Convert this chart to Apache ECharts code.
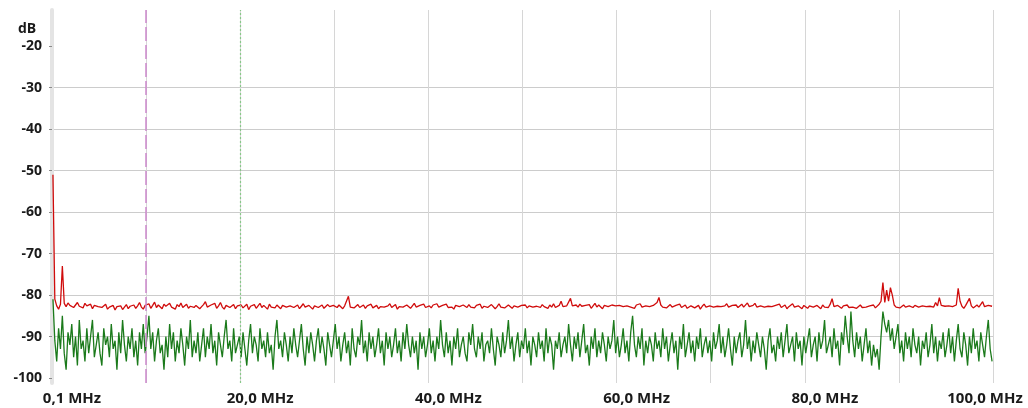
<!DOCTYPE html>
<html>
<head>
<meta charset="utf-8">
<script src="https://cdn.jsdelivr.net/npm/echarts@6/dist/echarts.min.js"></script>
<style>html,body{margin:0;padding:0;background:#fff}#c{width:1028px;height:408px}</style>
</head>
<body>
<div id="c"></div>
<script>
// ---- data ----
const freqStartMHz = 0.1;
const freqStepMHz = 0.2;
const redTrace = [
-51.0,-81.0,-82.6,-83.4,-82.2,-73.0,-82.0,-82.8,-81.9,-82.5,-82.1,-83.0,-82.4,-81.8,-82.7,-82.3,-83.1,-82.0,-82.6,-82.9,-82.2,-83.3,-82.5,-82.1,-82.8,
-82.4,-83.0,-82.7,-82.2,-83.4,-82.9,-83.1,-82.5,-83.6,-82.8,-83.2,-82.6,-83.5,-82.9,-82.3,-83.3,-82.7,-83.0,-82.4,-83.2,-82.6,-81.8,-82.9,-83.4,-82.5,
-82.9,-82.1,-83.2,-82.5,-81.7,-83.0,-82.4,-82.8,-83.3,-82.2,-82.7,-83.1,-82.0,-82.9,-82.5,-83.4,-82.3,-82.8,-81.9,-83.0,-82.6,-82.2,-83.2,-82.7,-82.4,
-83.0,-82.5,-82.1,-83.3,-82.8,-82.3,-81.6,-82.9,-83.1,-82.4,-82.7,-82.0,-83.2,-82.6,-81.8,-82.9,-83.4,-82.5,-82.2,-83.0,-82.7,-82.3,-83.3,-82.6,-82.9,
-82.4,-83.1,-82.8,-82.2,-83.5,-82.7,-82.9,-82.3,-83.2,-82.6,-82.0,-83.0,-82.5,-82.8,-83.4,-82.2,-82.9,-82.6,-83.1,-82.4,-82.7,-83.3,-82.5,-82.1,-82.9,
-83.2,-82.6,-82.3,-83.0,-82.8,-82.4,-83.3,-82.7,-82.1,-82.9,-83.1,-82.5,-82.8,-83.4,-82.6,-82.2,-83.0,-82.7,-82.4,-83.2,-82.9,-82.3,-82.8,-83.1,-82.5,
-82.7,-83.0,-82.4,-82.8,-83.3,-82.6,-82.2,-80.3,-82.9,-82.5,-83.1,-82.7,-82.3,-83.0,-82.8,-82.4,-83.2,-82.6,-82.9,-82.2,-83.1,-82.7,-82.5,-83.3,-82.8,
-82.4,-82.9,-83.2,-82.6,-82.1,-83.0,-82.7,-82.3,-83.4,-82.8,-82.5,-82.9,-83.1,-82.4,-82.7,-83.2,-82.6,-82.0,-82.9,-83.3,-82.5,-82.8,-82.2,-83.0,-82.7,
-82.6,-83.1,-82.4,-82.8,-82.1,-82.9,-83.3,-82.5,-82.7,-82.2,-83.0,-82.6,-82.9,-83.4,-82.5,-82.1,-82.8,-83.2,-82.4,-82.7,-83.0,-82.3,-82.9,-82.6,-83.1,
-82.5,-82.8,-82.2,-83.2,-82.7,-82.4,-83.0,-82.9,-82.3,-82.6,-83.3,-82.8,-82.1,-82.9,-82.5,-83.1,-82.7,-82.4,-82.8,-83.2,-82.6,-82.3,-82.9,-83.0,-82.5,
-82.8,-82.4,-83.1,-82.6,-82.2,-82.9,-83.3,-82.7,-82.5,-83.0,-82.3,-82.8,-82.6,-83.2,-82.4,-82.9,-82.1,-83.0,-82.7,-82.5,-81.5,-82.8,-83.2,-82.6,-82.4,
-80.8,-82.6,-83.0,-82.4,-82.9,-82.2,-82.7,-83.1,-82.5,-82.8,-82.3,-83.2,-82.6,-82.0,-82.9,-82.4,-82.7,-83.3,-82.5,-82.2,-82.8,-83.0,-82.4,-82.7,-82.6,
-83.0,-82.5,-82.2,-82.8,-83.1,-82.6,-82.3,-82.9,-82.7,-83.2,-82.4,-82.8,-82.1,-82.9,-83.3,-82.6,-82.4,-82.8,-83.0,-82.5,-82.2,-81.8,-80.6,-82.4,-82.9,
-82.6,-83.1,-82.7,-82.3,-82.9,-83.3,-82.5,-82.8,-82.2,-83.0,-82.7,-82.4,-83.2,-82.9,-82.6,-82.3,-83.1,-82.8,-82.5,-83.4,-82.7,-82.2,-82.9,-83.0,-82.6,
-82.4,-82.9,-83.2,-82.7,-82.3,-82.8,-83.1,-82.6,-82.1,-82.9,-83.3,-82.5,-82.8,-82.4,-83.0,-82.7,-82.2,-82.9,-82.6,-81.9,-82.8,-83.2,-82.5,-82.0,-82.9,
-83.1,-82.6,-82.3,-82.9,-83.3,-82.7,-82.4,-82.8,-83.2,-82.5,-82.9,-82.2,-83.0,-82.7,-82.4,-83.3,-82.8,-82.5,-82.1,-82.9,-83.1,-82.6,-82.8,-83.3,-82.5,
-82.8,-83.2,-82.6,-82.3,-82.9,-83.1,-82.5,-82.7,-83.3,-82.4,-82.9,-82.6,-83.0,-82.2,-80.9,-82.8,-83.1,-82.5,-82.7,-83.2,-82.6,-82.9,-82.4,-83.0,-82.7,
-82.9,-82.5,-83.2,-82.8,-82.4,-83.0,-82.7,-82.9,-83.3,-82.6,-82.8,-82.4,-83.1,-82.7,-82.2,-81.5,-77.0,-81.8,-78.8,-81.5,-78.2,-80.0,-82.4,-82.9,-82.6,
-83.1,-82.7,-82.4,-82.9,-83.2,-82.6,-82.8,-83.0,-82.5,-82.2,-82.9,-83.3,-82.6,-82.4,-82.8,-83.1,-82.7,-82.3,-82.9,-81.8,-82.6,-80.6,-82.5,-82.9,-82.7,
-83.0,-82.6,-82.2,-82.8,-83.1,-82.4,-78.4,-81.5,-82.7,-83.2,-82.5,-82.9,-80.8,-82.6,-83.1,-82.7,-82.4,-82.9,-83.2,-81.6,-82.8,-83.1,-82.5,-82.9,-82.7
];
const greenTrace = [
-81,-91,-96,-88,-93,-85,-94,-98,-89,-92,-87,-95,-90,-97,-86,-93,-91,-96,-88,-94,-90,-86,-95,-92,-89,
-94,-97,-88,-92,-90,-95,-87,-93,-91,-98,-89,-94,-86,-92,-96,-90,-93,-88,-95,-91,-97,-89,-93,-87,-94,
-90,-85,-93,-89,-96,-91,-88,-94,-92,-98,-90,-95,-87,-93,-89,-96,-91,-94,-88,-92,-97,-90,-93,-86,-95,
-91,-94,-89,-96,-92,-88,-95,-90,-93,-87,-94,-91,-97,-89,-92,-95,-90,-86,-93,-91,-96,-88,-94,-92,-90,
-95,-89,-93,-97,-91,-87,-94,-90,-92,-96,-88,-93,-91,-95,-89,-94,-92,-98,-90,-86,-93,-91,-95,-89,-92,
-96,-90,-94,-88,-92,-95,-91,-87,-93,-97,-90,-94,-89,-92,-96,-91,-88,-94,-90,-93,-97,-89,-92,-95,-91,
-87,-93,-90,-96,-92,-89,-94,-91,-97,-88,-93,-95,-90,-92,-86,-94,-91,-96,-89,-93,-90,-95,-92,-88,-94,
-91,-97,-89,-93,-90,-95,-92,-88,-94,-91,-96,-89,-93,-87,-92,-95,-90,-94,-91,-98,-89,-93,-90,-95,-92,
-88,-94,-91,-96,-90,-93,-86,-92,-95,-89,-94,-91,-97,-90,-93,-88,-95,-92,-90,-94,-96,-89,-92,-87,-93,
-95,-90,-93,-89,-96,-92,-91,-94,-88,-93,-97,-90,-92,-95,-89,-94,-91,-86,-93,-90,-96,-92,-89,-95,-91,
-93,-88,-94,-91,-97,-90,-92,-95,-89,-93,-91,-96,-88,-94,-90,-92,-98,-91,-93,-89,-95,-92,-90,-94,-87,
-92,-96,-90,-93,-89,-95,-91,-87,-94,-92,-97,-90,-93,-88,-95,-91,-94,-89,-92,-96,-90,-93,-91,-86,-94,
-90,-95,-92,-88,-94,-91,-96,-89,-85,-92,-95,-90,-93,-88,-97,-91,-94,-90,-92,-96,-89,-93,-91,-95,-88,
-93,-90,-96,-92,-89,-94,-91,-98,-90,-93,-87,-95,-92,-89,-94,-91,-96,-90,-93,-88,-95,-92,-90,-94,-91,
-96,-89,-93,-91,-87,-94,-90,-95,-92,-88,-93,-97,-90,-94,-91,-89,-95,-92,-86,-93,-90,-96,-91,-94,-89,
-92,-95,-90,-93,-98,-91,-88,-94,-92,-96,-90,-93,-89,-95,-91,-87,-94,-92,-90,-96,-89,-93,-91,-97,-90,
-94,-91,-88,-95,-92,-90,-96,-89,-93,-91,-86,-94,-92,-90,-95,-88,-93,-91,-97,-89,-92,-85,-90,-94,-84,
-91,-95,-89,-93,-90,-96,-92,-88,-94,-91,-97,-92,-95,-93,-98,-90,-84,-87,-89,-86,-91,-88,-93,-90,-87,
-94,-91,-96,-89,-93,-90,-95,-88,-92,-94,-90,-97,-91,-93,-89,-95,-92,-87,-94,-90,-96,-91,-93,-89,-95,
-92,-88,-94,-90,-96,-91,-87,-93,-95,-89,-92,-97,-90,-94,-88,-93,-91,-96,-89,-92,-95,-90,-86,-93,-96
];
const xLabelValues = [0, 20, 40, 60, 80, 100];
const xLabelTexts = ['0,1 MHz', '20,0 MHz', '40,0 MHz', '60,0 MHz', '80,0 MHz', '100,0 MHz'];
const yTickValues = [-100, -90, -80, -70, -60, -50, -40, -30, -20];
const markerPink = 10;
const markerGreen = 20;

// ---- chart ----
const toPairs = arr => arr.map((v, i) => [+(freqStartMHz + i * freqStepMHz).toFixed(2), v]);
const font = "'Open Sans', 'Liberation Sans', sans-serif";
const chart = echarts.init(document.getElementById('c'), null, { renderer: 'canvas' });
const labelRich = {
  a: { fontFamily: font, fontWeight: 'bold', fontSize: 15, color: '#1a1a1a', padding: [0, 0, 0, 40] },
  e: { fontFamily: font, fontWeight: 'bold', fontSize: 15, color: '#1a1a1a', padding: [0, 16, 0, 0] }
};
chart.setOption({
  animation: false,
  backgroundColor: '#ffffff',
  title: {
    text: 'dB', left: 13, top: 17,
    textStyle: { fontFamily: font, fontWeight: 'bold', fontSize: 14, color: '#1a1a1a' }
  },
  grid: { left: 52, right: 35, top: 10, bottom: 25, containLabel: false },
  xAxis: {
    type: 'value', min: 0, max: 100, interval: 10,
    axisLine: { show: false },
    axisTick: { show: false },
    splitLine: { show: true, showMinLine: false, showMaxLine: true, lineStyle: { color: '#d6d6d6', width: 1 } },
    axisLabel: {
      customValues: xLabelValues,
      showMinLabel: true, showMaxLabel: true, margin: 8,
      formatter: v => {
        const i = xLabelValues.indexOf(v);
        if (i < 0) return '';
        return (v === 100 ? '{e|' : '{a|') + xLabelTexts[i] + '}';
      },
      rich: labelRich
    }
  },
  yAxis: {
    type: 'value', min: -101.2, max: -11.3, splitNumber: 9,
    axisLine: { show: true, lineStyle: { color: '#e4e4e4', width: 4 } },
    axisTick: { show: true, customValues: yTickValues, length: 3, lineStyle: { color: '#8a8a8a' } },
    splitLine: { show: true, showMinLine: false, showMaxLine: false, lineStyle: { color: '#cccccc', width: 1 } },
    axisLabel: {
      customValues: yTickValues, margin: 10,
      fontFamily: font, fontWeight: 'bold', fontSize: 14, color: '#1a1a1a',
      formatter: v => String(v)
    }
  },
  series: [
    {
      name: 'green', type: 'line', data: toPairs(greenTrace), showSymbol: false, symbol: 'none',
      lineStyle: { color: '#1b7a1b', width: 1.3 }, z: 3,
      markLine: {
        silent: true, symbol: 'none', label: { show: false },
        data: [
          { xAxis: markerPink, lineStyle: { color: '#cc88cc', type: [14, 4], width: 1.5 } },
          { xAxis: markerGreen, lineStyle: { color: '#88c888', type: [2, 2], width: 1.2 } }
        ]
      }
    },
    {
      name: 'red', type: 'line', data: toPairs(redTrace), showSymbol: false, symbol: 'none',
      lineStyle: { color: '#d00c0c', width: 1.3 }, z: 4
    }
  ]
});
</script>
</body>
</html>
